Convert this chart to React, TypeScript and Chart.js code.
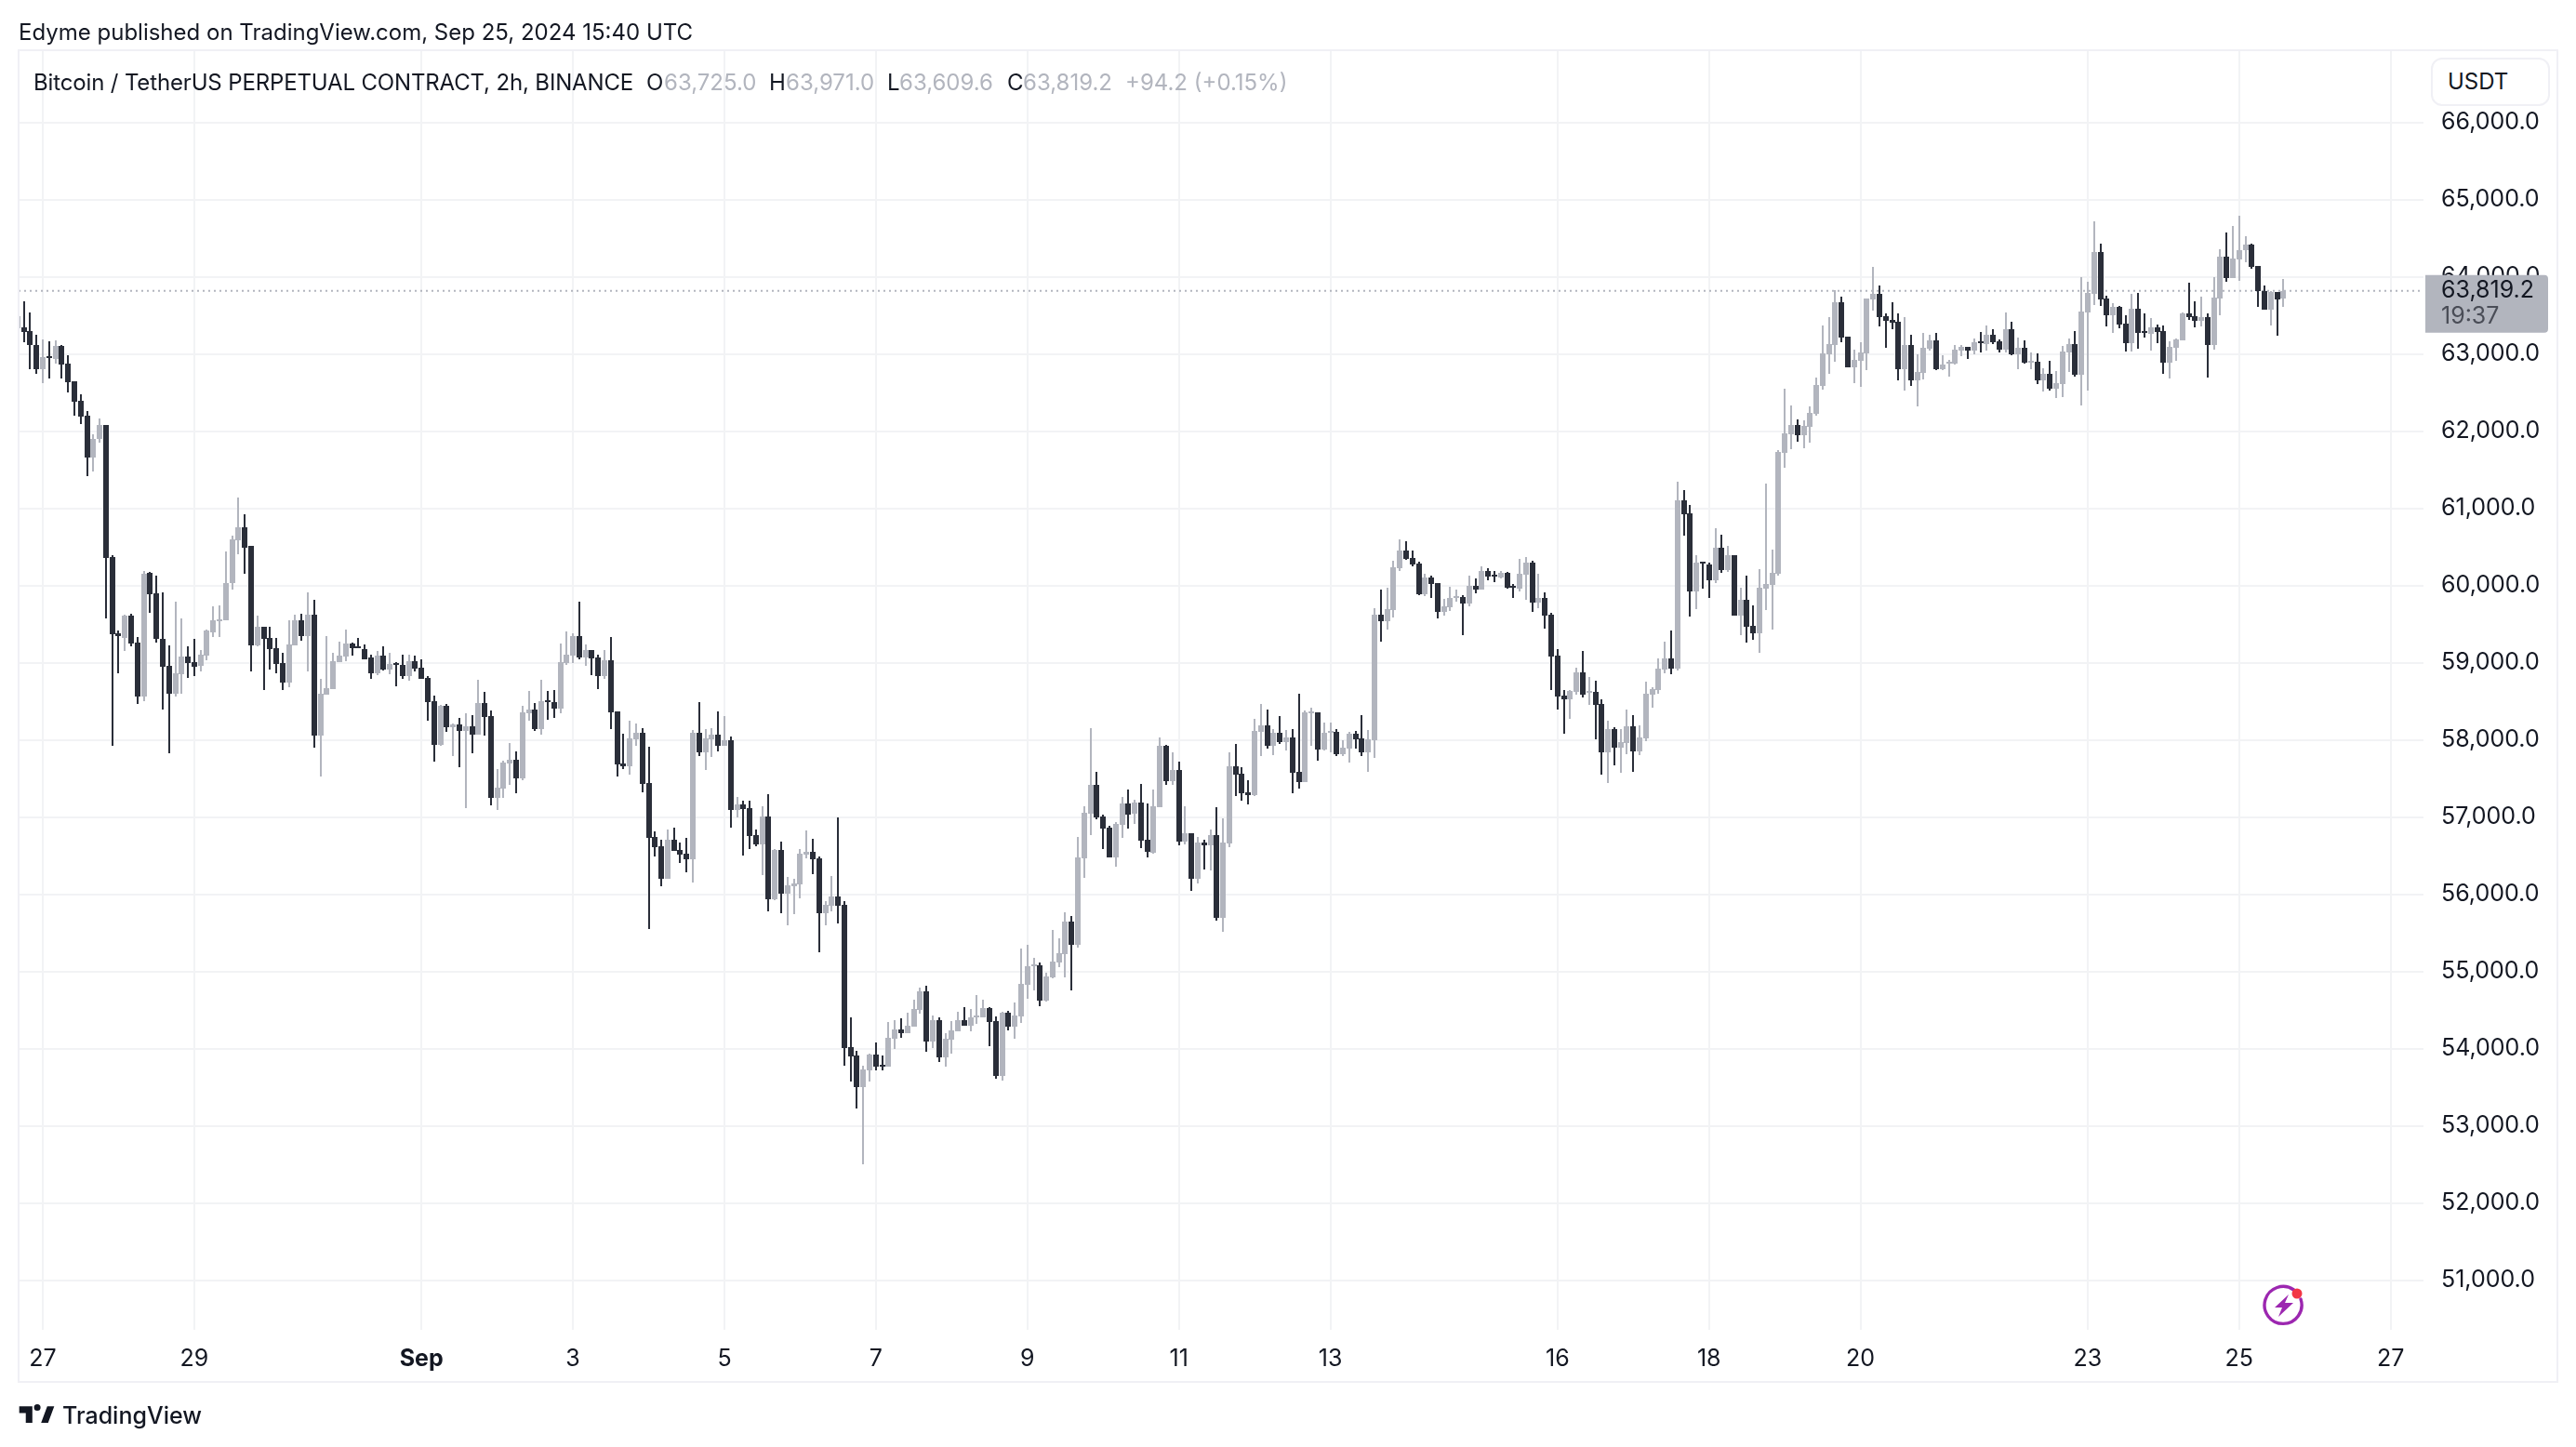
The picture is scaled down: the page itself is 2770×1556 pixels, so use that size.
import React, { useEffect, useRef } from "react";
import { Chart, registerables } from "chart.js";

Chart.register(...registerables);

const firstIndex = -4;

const opens = [
  63330, 63340, 63301, 63120, 62802, 62978, 62940, 63108, 62880, 62651,
  62398, 62204, 61662, 61894, 62079, 60375, 59385, 59325, 59605, 59265,
  58568, 60169, 59906, 59312, 58964, 58602, 58856, 59084, 59007, 58964,
  59097, 59398, 59549, 59545, 60031, 60590, 60750, 60509, 59231, 59467,
  59325, 59192, 59002, 58749, 59231, 59545, 59351, 59626, 58060, 58589,
  58663, 59011, 59084, 59252, 59218, 59183, 59063, 58869, 59097, 58917,
  58998, 58977, 58822, 59024, 58942, 58807, 58506, 57940, 58446, 58169,
  58205, 58120, 58181, 58072, 58482, 58313, 57253, 57374, 57699, 57747,
  57506, 58349, 58398, 58145, 58518, 58494, 58410, 59000, 59096, 59349,
  59072, 59169, 59072, 58831, 59036, 58373, 57699, 57663, 58012, 58096,
  57446, 56747, 56627, 56205, 56711, 56578, 56530, 56458, 58096, 57843,
  58012, 58072, 57928, 58000, 57096, 57169, 57120, 56771, 56651, 57012,
  55940, 56578, 56012, 56108, 56133, 56518, 56554, 56470, 55759, 55855,
  55976, 55867, 54024, 53916, 53506, 53723, 53928, 53795, 53771, 54133,
  54253, 54205, 54289, 54506, 54747, 54096, 54373, 53892, 54120, 54229,
  54373, 54301, 54410, 54410, 54530, 54361, 53651, 54470, 54289, 54422,
  54831, 55072, 55084, 54627, 54928, 55120, 55229, 55651, 55349, 56470,
  57048, 57422, 57012, 56867, 56482, 56904, 57181, 57048, 57193, 56711,
  56542, 57133, 57928, 57470, 57614, 56687, 56795, 56205, 56675, 56639,
  56771, 55699, 56663, 57663, 57566, 57325, 57289, 58108, 58193, 57928,
  58096, 57976, 58036, 57590, 57458, 58349, 58361, 57880, 58096, 58108,
  57819, 57892, 58084, 58024, 57843, 58000, 59627, 59542, 59687, 60229,
  60458, 60361, 60289, 59892, 60108, 60036, 59663, 59723, 59843, 59855,
  59771, 60000, 59952, 60193, 60145, 60108, 60169, 60000, 59964, 60145,
  60301, 59783, 59843, 59627, 59096, 58578, 58530, 58627, 58880, 58614,
  58627, 58470, 57843, 58145, 57904, 57964, 58181, 57855, 58024, 58590,
  58651, 58916, 59060, 58928, 61108, 60940, 59928, 60313, 60277, 60072,
  60494, 60205, 60398, 59614, 59819, 59482, 59386, 59964, 60012, 60157,
  61723, 61964, 62084, 61952, 62060, 62229, 62590, 63000, 63120, 63675,
  63229, 62831, 62916, 63012, 63711, 63783, 63494, 63446, 63422, 62807,
  63120, 62663, 62759, 63072, 63181, 62807, 62880, 62880, 63048, 63096,
  63048, 63169, 63133, 63253, 63169, 63060, 63325, 63000, 63084, 62892,
  62904, 62663, 62747, 62554, 62614, 63024, 63133, 62735, 63542, 63783,
  64325, 63723, 63506, 63614, 63398, 63145, 63590, 63301, 63265, 63349,
  63301, 62892, 63084, 63181, 63530, 63494, 63434, 63482, 63120, 63723,
  64265, 63984, 64225, 64345, 64418, 64141, 63815, 63574, 63803, 63725,
];

const highs = [
  63495, 63684, 63538, 63254, 63194, 63168, 63181, 63120, 62987, 62651,
  62484, 62264, 61963, 62170, 62079, 60388, 59424, 59626, 59639, 59338,
  60190, 60177, 60134, 59915, 59226, 59794, 59579, 59218, 59304, 59170,
  59433, 59734, 59747, 60448, 60651, 61145, 60930, 60517, 59614, 59467,
  59467, 59325, 59132, 59553, 59626, 59639, 59915, 59820, 58796, 59351,
  59132, 59278, 59433, 59265, 59325, 59243, 59110, 59157, 59218, 59132,
  59011, 59110, 59110, 59097, 59050, 58827, 58574, 58458, 58470, 58213,
  58285, 58349, 58325, 58783, 58627, 58386, 57627, 57735, 57964, 57855,
  58446, 58639, 58482, 58783, 58639, 58651, 59253, 59410, 59386, 59795,
  59241, 59169, 59108, 59169, 59337, 58373, 58084, 58253, 58217, 58157,
  57916, 56819, 56711, 56843, 56867, 56675, 56735, 58133, 58494, 58145,
  58157, 58373, 58313, 58048, 57265, 57217, 57217, 56843, 57145, 57301,
  56590, 56687, 56229, 56205, 56590, 56831, 56723, 56494, 55916, 56241,
  57000, 55916, 54410, 53976, 53783, 53940, 54084, 53916, 54349, 54373,
  54398, 54470, 54639, 54795, 54819, 54434, 54410, 54205, 54361, 54482,
  54542, 54518, 54699, 54639, 54542, 54422, 54482, 54494, 54602, 55301,
  55349, 55181, 55120, 54988, 55542, 55434, 55771, 55723, 56747, 57145,
  58157, 57590, 57036, 56892, 56940, 57265, 57361, 57229, 57434, 57181,
  57361, 58036, 57940, 57843, 57723, 57145, 56795, 56747, 56711, 56843,
  57133, 56988, 57843, 57952, 57651, 57482, 58277, 58470, 58398, 58145,
  58313, 58133, 58145, 58602, 58386, 58422, 58361, 58229, 58229, 58145,
  58000, 58108, 58120, 58325, 58133, 59711, 59952, 59976, 60325, 60602,
  60578, 60458, 60313, 60157, 60133, 60036, 59831, 59988, 59952, 59880,
  60133, 60096, 60253, 60229, 60193, 60193, 60181, 60024, 60349, 60373,
  60325, 60157, 59916, 59651, 59181, 58651, 58651, 58940, 59157, 58819,
  58771, 58530, 58253, 58169, 58145, 58398, 58325, 58193, 58759, 58687,
  59060, 59277, 59422, 61349, 61241, 61048, 60398, 60313, 60301, 60747,
  60663, 60518, 60398, 59976, 60133, 59747, 60217, 61325, 60470, 61759,
  62554, 62337, 62157, 62145, 62325, 62699, 63373, 63482, 63831, 63747,
  63229, 63060, 63157, 63723, 64133, 63892, 63530, 63675, 63530, 63482,
  63253, 63000, 63277, 63253, 63277, 62988, 62928, 63120, 63120, 63096,
  63205, 63289, 63373, 63325, 63193, 63542, 63422, 63217, 63181, 63024,
  63012, 62819, 62916, 62783, 63108, 63205, 63301, 64000, 63940, 64720,
  64434, 63759, 63663, 63627, 63506, 63783, 63795, 63530, 63470, 63386,
  63373, 63169, 63205, 63542, 63928, 63687, 63747, 63530, 64000, 64361,
  64578, 64659, 64791, 64526, 64430, 64141, 63888, 63815, 63803, 63971,
];

const lows = [
  63330, 63150, 62802, 62746, 62617, 62686, 62880, 62686, 62505, 62204,
  62096, 61421, 61481, 61855, 59579, 57927, 58869, 59157, 59218, 58469,
  58508, 59652, 59265, 58400, 57824, 58568, 58602, 58809, 58830, 58891,
  59037, 59338, 59338, 59545, 59953, 60410, 60147, 58882, 59209, 58650,
  58917, 58869, 58650, 58688, 59231, 59291, 58882, 57905, 57531, 58589,
  58663, 59011, 59024, 59097, 59192, 59050, 58796, 58843, 58904, 58856,
  58701, 58796, 58762, 58891, 58796, 58253, 57723, 57920, 58108, 57795,
  57651, 57120, 57831, 58072, 58060, 57157, 57096, 57253, 57422, 57313,
  57482, 58253, 58120, 58072, 58265, 58289, 58349, 58976, 59000, 59048,
  58964, 58843, 58663, 58795, 58145, 57530, 57627, 57554, 57928, 57325,
  55554, 56494, 56109, 56205, 56566, 56410, 56289, 56157, 57795, 57614,
  57783, 57855, 57928, 56867, 57000, 56506, 56590, 56627, 56253, 55783,
  55928, 55759, 55602, 55747, 55952, 56470, 56265, 55253, 55602, 55783,
  55627, 53783, 53578, 53229, 52506, 53578, 53723, 53723, 53771, 54000,
  54145, 54205, 54289, 54458, 53964, 54012, 53831, 53771, 53940, 54229,
  54301, 54229, 54325, 54410, 54036, 53614, 53590, 54241, 54133, 54337,
  54651, 54759, 54554, 54614, 54916, 55060, 54928, 54759, 55313, 56217,
  56771, 56976, 56590, 56482, 56361, 56735, 56855, 56916, 56602, 56482,
  56530, 57133, 57422, 57422, 56639, 56651, 56048, 56145, 56325, 56313,
  55663, 55518, 56614, 57277, 57217, 57169, 57277, 57795, 57892, 57807,
  57952, 57867, 57313, 57373, 57458, 57928, 57735, 57867, 57843, 57795,
  57795, 57711, 57892, 57795, 57590, 57771, 59277, 59434, 59590, 60193,
  60337, 60253, 59880, 59867, 59843, 59578, 59614, 59675, 59795, 59361,
  59735, 59904, 59952, 60072, 60048, 60096, 59964, 59843, 59928, 59819,
  59663, 59711, 59446, 58651, 58398, 58084, 58277, 58590, 58554, 58458,
  58012, 57554, 57446, 57675, 57578, 57819, 57590, 57807, 57988, 58422,
  58602, 58867, 58855, 58904, 60651, 59602, 59699, 59964, 59843, 60036,
  60169, 60181, 59614, 59361, 59265, 59301, 59133, 59687, 59434, 60130,
  61530, 61771, 61867, 61783, 61855, 62205, 62542, 62747, 62904, 63157,
  62831, 62627, 62578, 62795, 63566, 63361, 63084, 63325, 62663, 62530,
  62590, 62325, 62675, 63048, 62795, 62795, 62711, 62867, 62976, 62940,
  63000, 63024, 63048, 63133, 63024, 63024, 62988, 62807, 62880, 62807,
  62614, 62518, 62530, 62434, 62446, 62771, 62711, 62337, 62530, 63639,
  63627, 63361, 63277, 63337, 63036, 63036, 63072, 63217, 63048, 63145,
  62747, 62687, 62916, 63181, 63446, 63349, 63361, 62699, 63060, 63506,
  63940, 63984, 63948, 64189, 64104, 63610, 63574, 63369, 63237, 63609.6,
];

const closes = [
  63495, 63288, 63112, 62802, 62966, 62957, 63103, 62867, 62639, 62385,
  62195, 61662, 61903, 62075, 60362, 59373, 59342, 59605, 59252, 58568,
  60156, 59893, 59304, 58951, 58602, 58869, 59084, 59002, 58951, 59110,
  59416, 59553, 59566, 60035, 60603, 60750, 60496, 59231, 59467, 59312,
  59183, 58990, 58749, 59243, 59545, 59351, 59626, 58060, 58602, 58676,
  59024, 59097, 59252, 59192, 59192, 59050, 58869, 59097, 58917, 58990,
  58977, 58822, 59024, 58929, 58796, 58494, 57940, 58446, 58169, 58205,
  58120, 58181, 58072, 58482, 58301, 57253, 57386, 57711, 57747, 57506,
  58361, 58398, 58145, 58506, 58494, 58410, 59012, 59108, 59349, 59072,
  59169, 59060, 58831, 59036, 58361, 57687, 57663, 58024, 58096, 57434,
  56735, 56614, 56205, 56711, 56566, 56518, 56458, 58096, 57843, 58024,
  58072, 57928, 58000, 57096, 57169, 57108, 56759, 56651, 57012, 55940,
  56578, 56012, 56120, 56145, 56530, 56554, 56458, 55759, 55867, 55976,
  55855, 54012, 53904, 53506, 53735, 53928, 53771, 53771, 54145, 54253,
  54205, 54301, 54518, 54747, 54096, 54373, 53892, 54133, 54241, 54373,
  54301, 54410, 54434, 54530, 54349, 53651, 54470, 54289, 54434, 54843,
  55072, 55096, 54627, 54940, 55133, 55241, 55651, 55349, 56482, 57060,
  57422, 57000, 56855, 56482, 56916, 57181, 57036, 57193, 56699, 56554,
  57145, 57928, 57470, 57614, 56687, 56795, 56205, 56675, 56639, 56771,
  55699, 56675, 57663, 57554, 57313, 57289, 58120, 58193, 57928, 58096,
  57976, 58036, 57578, 57458, 58361, 58373, 57880, 58096, 58120, 57819,
  57904, 58084, 58012, 57843, 58012, 59627, 59542, 59699, 60241, 60458,
  60349, 60277, 59892, 60108, 60024, 59663, 59735, 59843, 59867, 59771,
  60000, 59952, 60193, 60120, 60120, 60169, 59976, 59976, 60157, 60301,
  59783, 59843, 59614, 59084, 58566, 58530, 58639, 58880, 58590, 58639,
  58458, 57843, 58145, 57904, 57976, 58181, 57855, 58036, 58602, 58663,
  58928, 59060, 58928, 61108, 60928, 59928, 60301, 60289, 60072, 60494,
  60205, 60398, 59614, 59819, 59470, 59386, 59976, 60024, 60169, 61735,
  61976, 62084, 61952, 62072, 62241, 62602, 63012, 63133, 63675, 63217,
  62831, 62928, 63024, 63723, 63783, 63482, 63434, 63410, 62807, 63120,
  62663, 62771, 63084, 63181, 62807, 62867, 62904, 63060, 63096, 63048,
  63157, 63145, 63253, 63157, 63060, 63325, 63000, 63084, 62892, 62916,
  62663, 62747, 62554, 62627, 63036, 63133, 62735, 63554, 63795, 64325,
  63711, 63506, 63614, 63386, 63145, 63590, 63277, 63277, 63349, 63289,
  62892, 63096, 63193, 63530, 63482, 63434, 63482, 63120, 63735, 64265,
  63988, 64237, 64345, 64418, 64129, 63815, 63574, 63803, 63707, 63819.2,
];

const dayTickIndex = [0, 24, 60, 84, 108, 132, 156, 180, 204, 240, 264, 288, 324, 348, 372];
const dayTickLabels = ["27", "29", "Sep", "3", "5", "7", "9", "11", "13", "16", "18", "20", "23", "25", "27"];
const priceTicks = [51000, 52000, 53000, 54000, 55000, 56000, 57000, 58000, 59000, 60000, 61000, 62000, 63000, 64000, 65000, 66000];
const lastPrice = 63819.2;

const UP = "#b2b5be";
const DOWN = "#2a2e39";
const GRID = "#f2f3f5";
const FRAME = "#f0f0f5";
const TEXT = "#131722";
const FONT = "Inter, 'Noto Sans', sans-serif";

const xMin = -3.83;
const xMax = 377.2;
const yMin = 50358;
const yMax = 66936;

const colorOf = (i: number) => (closes[i] >= opens[i] ? UP : DOWN);

// Snap candle parts to the pixel grid, like the original crisp rendering.
const snapPlugin = {
  id: "snap",
  beforeDatasetDraw(chart: any, args: any) {
    if (args.meta.type !== "bar") return;
    args.meta.data.forEach((el: any) => {
      el.x = Math.round(el.x);
      const top = Math.round(Math.min(el.y, el.base));
      let bot = Math.round(Math.max(el.y, el.base));
      if (bot - top < 2) bot = top + 2;
      el.y = top;
      el.base = bot;
    });
  },
};

// Outer pane frame and the last-price tag on the price scale.
const framePlugin = {
  id: "frame",
  afterDraw(chart: any) {
    const { ctx, scales } = chart;
    ctx.save();
    ctx.strokeStyle = FRAME;
    ctx.lineWidth = 2;
    ctx.strokeRect(20, 54, 2730, 1432);
    const py = scales.y.getPixelForValue(lastPrice);
    const x0 = 2608;
    const top = py - 17;
    ctx.fillStyle = UP;
    ctx.beginPath();
    ctx.roundRect(x0, top, 132, 62, [0, 4, 4, 0]);
    ctx.fill();
    ctx.textAlign = "left";
    ctx.textBaseline = "middle";
    ctx.font = `25px ${FONT}`;
    ctx.fillStyle = TEXT;
    ctx.fillText(lastPrice.toLocaleString("en-US", { minimumFractionDigits: 1 }), 2625, top + 17);
    ctx.fillStyle = "#4a4d57";
    ctx.fillText("19:37", 2625, top + 45);
    ctx.restore();
  },
};

const pos = (left: number, top: number, extra: React.CSSProperties = {}): React.CSSProperties => ({
  position: "absolute",
  left,
  top,
  whiteSpace: "nowrap",
  fontFamily: FONT,
  fontSize: 24,
  lineHeight: "30px",
  color: TEXT,
  ...extra,
});

export default function App() {
  const ref = useRef<HTMLCanvasElement>(null);

  useEffect(() => {
    const index = opens.map((_, i) => i + firstIndex);
    const chart = new Chart(ref.current as HTMLCanvasElement, {
      type: "bar",
      data: {
        datasets: [
          {
            type: "line",
            data: [
              { x: xMin, y: lastPrice },
              { x: xMax, y: lastPrice },
            ],
            borderColor: UP,
            borderWidth: 2,
            borderDash: [2, 4],
            pointRadius: 0,
            order: 3,
          } as any,
          {
            data: index.map((x, i) => ({ x, y: [lows[i], highs[i]] })),
            backgroundColor: index.map((_, i) => colorOf(i)),
            barThickness: 2,
            inflateAmount: 0,
            order: 2,
          } as any,
          {
            data: index.map((x, i) => ({ x, y: [opens[i], closes[i]] })),
            backgroundColor: index.map((_, i) => colorOf(i)),
            barThickness: 6,
            inflateAmount: 0,
            order: 1,
          } as any,
        ],
      },
      options: {
        responsive: false,
        animation: false,
        devicePixelRatio: 1,
        parsing: { xAxisKey: "x", yAxisKey: "y" },
        datasets: { bar: { grouped: false } },
        layout: { padding: { left: 20, top: 54, right: 20, bottom: 70 } },
        plugins: { legend: { display: false }, tooltip: { enabled: false }, title: { display: false } },
        scales: {
          x: {
            type: "linear",
            offset: false,
            min: xMin,
            max: xMax,
            afterBuildTicks: (axis: any) => {
              axis.ticks = dayTickIndex.map((value) => ({ value }));
            },
            afterFit: (axis: any) => {
              axis.height = 56;
            },
            border: { display: false },
            grid: { color: GRID, lineWidth: 2, drawTicks: false, offset: false },
            ticks: {
              autoSkip: false,
              maxRotation: 0,
              padding: 16,
              color: TEXT,
              font: (ctx: any) => ({
                family: FONT,
                size: 25,
                weight: ctx.tick && ctx.tick.label === "Sep" ? "bold" : "normal",
              }),
              callback: (value: any) => dayTickLabels[dayTickIndex.indexOf(value)],
            },
          },
          y: {
            type: "linear",
            position: "right",
            min: yMin,
            max: yMax,
            afterBuildTicks: (axis: any) => {
              axis.ticks = priceTicks.map((value) => ({ value }));
            },
            afterFit: (axis: any) => {
              axis.width = 144;
            },
            border: { display: false },
            grid: { color: GRID, lineWidth: 2, drawTicks: false },
            ticks: {
              padding: 19,
              color: TEXT,
              font: { family: FONT, size: 25 },
              callback: (value: any) =>
                Number(value).toLocaleString("en-US", { minimumFractionDigits: 1 }),
            },
          },
        },
      } as any,
      plugins: [snapPlugin, framePlugin],
    });
    return () => chart.destroy();
  }, []);

  const gray = { color: UP };
  return (
    <div style={{ position: "fixed", left: 0, top: 0, width: 2770, height: 1556, background: "#fff", overflow: "hidden" }}>
      <canvas ref={ref} width={2770} height={1556} style={{ display: "block", width: 2770, height: 1556 }} />
      <div style={pos(20, 20)}>Edyme published on TradingView.com, Sep 25, 2024 15:40 UTC</div>
      <div style={pos(36, 74, { letterSpacing: -0.15 })}>Bitcoin / TetherUS PERPETUAL CONTRACT, 2h, BINANCE</div>
      <div style={pos(695, 74)}>O</div>
      <div style={pos(714, 74, gray)}>63,725.0</div>
      <div style={pos(827, 74)}>H</div>
      <div style={pos(845, 74, gray)}>63,971.0</div>
      <div style={pos(954, 74)}>L</div>
      <div style={pos(967, 74, gray)}>63,609.6</div>
      <div style={pos(1083, 74)}>C</div>
      <div style={pos(1100, 74, gray)}>63,819.2</div>
      <div style={pos(1210, 74, gray)}>+94.2 (+0.15%)</div>
      <div
        style={{
          position: "absolute",
          left: 2614,
          top: 62,
          width: 128,
          height: 52,
          boxSizing: "border-box",
          border: "2px solid #f0f0f5",
          borderRadius: 12,
          background: "#fff",
        }}
      />
      <div style={pos(2632, 73)}>USDT</div>
      <svg style={{ position: "absolute", left: 2430, top: 1380 }} width="54" height="50" viewBox="0 0 54 50">
        <path
          d="M 36.5 7 A 20 20 0 1 0 44 17"
          fill="none"
          stroke="#9c27b0"
          strokeWidth="3.4"
          strokeLinecap="round"
        />
        <path d="M31 12 L16 26 L24 26 L20 36 L36 21 L27 21 Z" fill="#9c27b0" />
        <circle cx="40" cy="11" r="5.5" fill="#f23645" />
      </svg>
      <svg style={{ position: "absolute", left: 20, top: 1510 }} width="39" height="20" viewBox="2 4 32 17">
        <path d="M14 6H2v6h6v9h6V6Zm8 15 5.6-15H34l-5.6 15H22Zm-3.5-11a3 3 0 1 0 0-6 3 3 0 0 0 0 6Z" fill={TEXT} />
      </svg>
      <div style={pos(67, 1505, { fontSize: 25, lineHeight: "34px", fontWeight: 500 })}>TradingView</div>
    </div>
  );
}
